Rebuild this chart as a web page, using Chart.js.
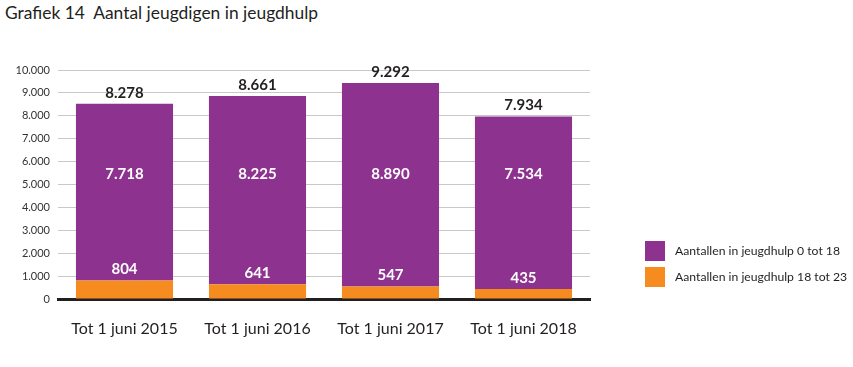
<!DOCTYPE html>
<html>
<head>
<meta charset="utf-8">
<script src="https://cdn.jsdelivr.net/npm/chart.js@4.4.1/dist/chart.umd.min.js"></script>
<style>
  html, body { margin: 0; padding: 0; background: #fff; }
  #wrap { position: relative; width: 853px; height: 367px; }
  #title { position: absolute; left: 5px; top: 2px; font-family: Lato, sans-serif; font-size: 17.4px; color: #231f20; white-space: pre; }
  canvas { position: absolute; left: 0; top: 0; }
</style>
</head>
<body>
<div id="wrap">
  <div id="title">Grafiek 14  Aantal jeugdigen in jeugdhulp</div>
  <canvas id="c" width="853" height="367"></canvas>
</div>
<script>
const categories = ['Tot 1 juni 2015', 'Tot 1 juni 2016', 'Tot 1 juni 2017', 'Tot 1 juni 2018'];
const seriesNames = ['Aantallen in jeugdhulp 0 tot 18', 'Aantallen in jeugdhulp 18 tot 23'];
const youth0to18 = [7718, 8225, 8890, 7534];
const youth18to23 = [804, 641, 547, 435];
const totalLabels = ['8.278', '8.661', '9.292', '7.934'];
const yTicks = [0, 1000, 2000, 3000, 4000, 5000, 6000, 7000, 8000, 9000, 10000];

const PURPLE = '#8e3290';
const ORANGE = '#f68b1f';
const TEXT = '#231f20';

function fmt(v) {
  return String(Math.round(v)).replace(/\B(?=(\d{3})+(?!\d))/g, '.');
}

const labelPlugin = {
  id: 'labels',
  afterDatasetsDraw(chart) {
    const ctx = chart.ctx;
    ctx.save();
    ctx.textAlign = 'center';
    ctx.textBaseline = 'middle';
    const metaO = chart.getDatasetMeta(0);
    const metaP = chart.getDatasetMeta(1);
    metaO.data.forEach((bar, i) => {
      ctx.font = 'bold 15px Lato, sans-serif';
      ctx.fillStyle = '#ffffff';
      ctx.fillText(fmt(youth18to23[i]), bar.x, bar.y - 11);
    });
    metaP.data.forEach((bar, i) => {
      ctx.font = 'bold 15px Lato, sans-serif';
      ctx.fillStyle = '#ffffff';
      const zeroY = chart.scales.y.getPixelForValue(0);
      ctx.fillText(fmt(youth0to18[i]), bar.x, zeroY - 125);
      ctx.fillStyle = TEXT;
      ctx.fillText(totalLabels[i], bar.x, bar.y - 11);
    });
    ctx.restore();
  }
};

const legendPlugin = {
  id: 'customLegend',
  afterDraw(chart) {
    const ctx = chart.ctx;
    ctx.save();
    const items = [
      { text: seriesNames[0], color: chart.data.datasets[1].backgroundColor },
      { text: seriesNames[1], color: chart.data.datasets[0].backgroundColor }
    ];
    const x = 645, y0 = 241, size = 20, gap = 26;
    items.forEach((it, i) => {
      const y = y0 + i * gap;
      ctx.fillStyle = it.color;
      ctx.fillRect(x, y, size, size);
      ctx.fillStyle = TEXT;
      ctx.font = '12.2px Lato, sans-serif';
      ctx.textAlign = 'left';
      ctx.textBaseline = 'middle';
      ctx.fillText(it.text, x + 30, y + size / 2);
    });
    ctx.restore();
  }
};

new Chart(document.getElementById('c'), {
  type: 'bar',
  data: {
    labels: categories,
    datasets: [
      { label: seriesNames[1], data: youth18to23, backgroundColor: ORANGE, barPercentage: 0.73, categoryPercentage: 1.0 },
      { label: seriesNames[0], data: youth0to18, backgroundColor: PURPLE, barPercentage: 0.73, categoryPercentage: 1.0 }
    ]
  },
  options: {
    responsive: false,
    animation: false,
    layout: { padding: { top: 70, right: 263, bottom: 0, left: 0 } },
    plugins: { legend: { display: false }, tooltip: { enabled: false }, title: { display: false } },
    scales: {
      x: {
        stacked: true,
        grid: { display: false },
        border: { display: true, color: '#231f20', width: 3 },
        ticks: { color: TEXT, font: { family: 'Lato', size: 16 }, padding: 12 },
        afterFit(scale) { scale.height = 68; }
      },
      y: {
        stacked: true,
        min: 0,
        max: 10000,
        afterBuildTicks(scale) { scale.ticks = yTicks.map(v => ({ value: v })); },
        grid: { color: '#c8c8c8', lineWidth: 1, drawTicks: false },
        border: { display: false },
        ticks: { color: '#333', font: { family: 'Lato', size: 11 }, padding: 8, callback: v => fmt(v) },
        afterFit(scale) { scale.width = 58; }
      }
    }
  },
  plugins: [labelPlugin, legendPlugin]
});
</script>
</body>
</html>
